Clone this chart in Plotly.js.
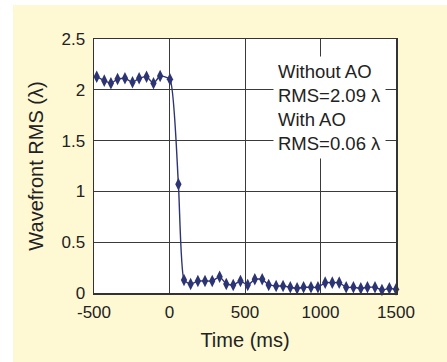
<!DOCTYPE html>
<html>
<head>
<meta charset="utf-8">
<script src="https://cdn.plot.ly/plotly-3.0.1.min.js"></script>
<style>
  html, body { margin: 0; padding: 0; background: #ffffff; width: 447px; height: 362px; overflow: hidden; }
  #chart { position: absolute; left: 13px; top: 5px; width: 434px; height: 357px; }
</style>
</head>
<body>
<div id="chart"></div>
<script>
const timeMs = [-482, -432, -388, -344, -295, -245, -201, -152, -106, -62, 3,
  59, 96, 140, 188, 235, 283, 332, 376, 422, 470, 518, 565, 614, 657, 706, 752,
  800, 845, 888, 937, 983, 1031, 1078, 1124, 1170, 1218, 1267, 1311, 1361, 1407, 1456, 1500];
const wavefrontRms = [2.129, 2.090, 2.064, 2.106, 2.113, 2.074, 2.113, 2.129, 2.064, 2.136, 2.103,
  1.07, 0.128, 0.089, 0.118, 0.118, 0.118, 0.160, 0.089, 0.079, 0.118, 0.079, 0.135, 0.135, 0.079,
  0.069, 0.069, 0.056, 0.046, 0.056, 0.056, 0.056, 0.102, 0.102, 0.102, 0.056, 0.056, 0.046,
  0.056, 0.056, 0.030, 0.046, 0.036];
const xTickVals = [-500, 0, 500, 1000, 1500];
const xTickText = ['-500', '0', '500', '1000', '1500'];
const yTickVals = [0, 0.5, 1, 1.5, 2, 2.5];
const yTickText = ['0', '0.5', '1', '1.5', '2', '2.5'];
const noteText = 'Without AO<br>RMS=2.09 λ<br>With AO<br>RMS=0.06 λ';

const navy = '#2d3474';
const trace = {
  x: timeMs, y: wavefrontRms, type: 'scatter', mode: 'lines+markers',
  line: { color: navy, width: 1.4, shape: 'spline', smoothing: 0.5 },
  marker: { symbol: 'diamond-tall', size: 9, color: navy },
  hoverinfo: 'none', showlegend: false, cliponaxis: false
};
const font = 'Liberation Sans, Arial, Helvetica, sans-serif';
const layout = {
  width: 434, height: 357,
  margin: { l: 81, r: 51, t: 34, b: 69 },
  paper_bgcolor: '#fef8d3', plot_bgcolor: '#ffffff',
  font: { family: font, color: '#222222' },
  xaxis: {
    range: [-500, 1500], tickvals: xTickVals, ticktext: xTickText,
    showgrid: true, gridcolor: '#3a3a3a', gridwidth: 1, zeroline: false,
    showline: true, linecolor: '#333333', linewidth: 1.5, mirror: true,
    ticks: '', ticklabelstandoff: 3, tickfont: { size: 17, family: font, color: '#222' },
    title: { text: 'Time (ms)', font: { size: 20, family: font, color: '#222' }, standoff: 12 }
  },
  yaxis: {
    range: [0, 2.5], tickvals: yTickVals, ticktext: yTickText,
    showgrid: true, gridcolor: '#3a3a3a', gridwidth: 1, zeroline: false,
    showline: true, linecolor: '#333333', linewidth: 1.5, mirror: true,
    ticks: '', ticklabelstandoff: 4, tickfont: { size: 17, family: font, color: '#222' },
    title: { text: 'Wavefront RMS (λ)', font: { size: 20, family: font, color: '#222' }, standoff: 12 }
  },
  annotations: [{
    x: 688, y: 1.83, xref: 'x', yref: 'y', showarrow: false,
    text: noteText, align: 'left', xanchor: 'left', yanchor: 'middle',
    bgcolor: '#ffffff', borderpad: 4,
    font: { size: 18.5, family: font, color: '#222' }
  }]
};
Plotly.newPlot('chart', [trace], layout, { displayModeBar: false, staticPlot: true });
</script>
</body>
</html>
